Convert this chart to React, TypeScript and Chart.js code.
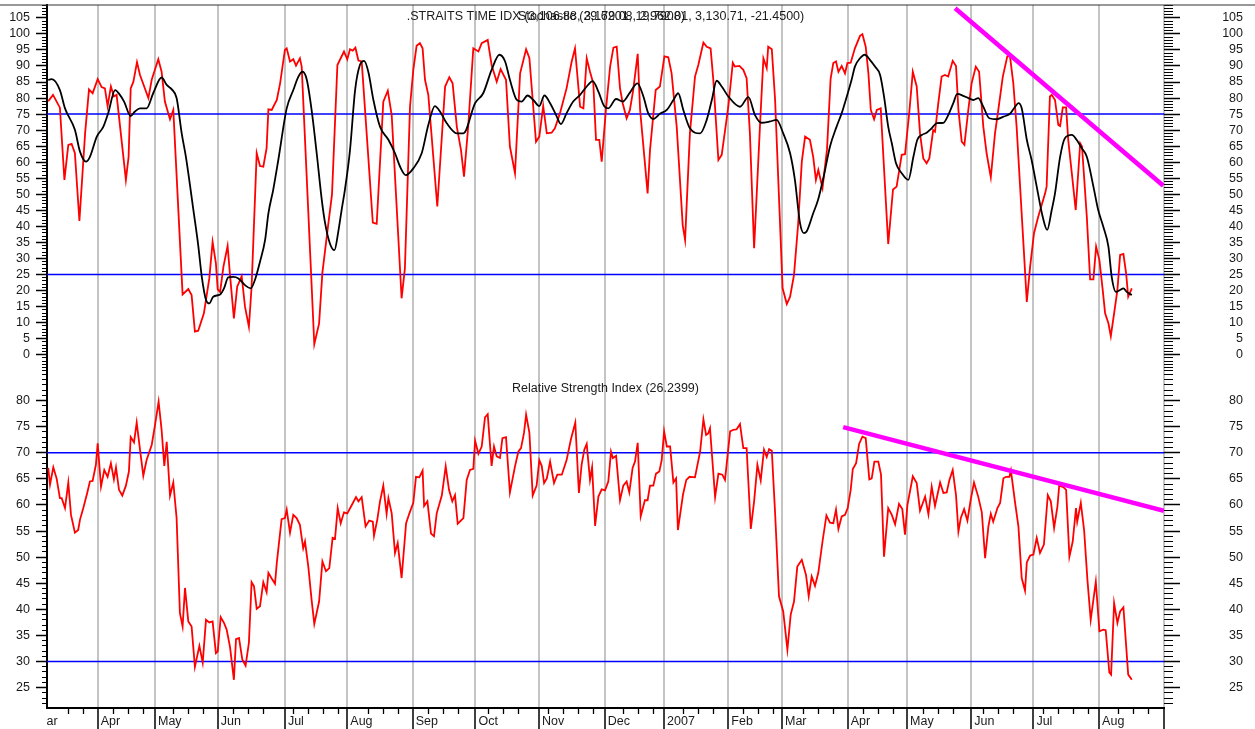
import React, { useEffect, useRef } from 'react';
import { Chart, registerables } from 'chart.js';

Chart.register(...registerables);

const FONT = '"Liberation Sans", Arial, Helvetica, sans-serif';
const TEXT_COLOR = '#1a1a1a';

// x axis: trading-day index
const X_MIN = 0;
const X_MAX = 372.33;

const monthDays = [16.9, 36, 56.9, 79.3, 100.1, 121.9, 142.8, 164, 185.9, 205.7, 227.1, 245, 266.9, 286.7, 308.1, 328.8, 350.7, 372.33];
const monthLabels = ['Apr', 'May', 'Jun', 'Jul', 'Aug', 'Sep', 'Oct', 'Nov', 'Dec', '2007', 'Feb', 'Mar', 'Apr', 'May', 'Jun', 'Jul', 'Aug', ''];
const leadMonthDay = -4.6;
const leadMonthLabel = 'Mar';

const stochTicks = [0, 5, 10, 15, 20, 25, 30, 35, 40, 45, 50, 55, 60, 65, 70, 75, 80, 85, 90, 95, 100, 105];
const rsiTicks = [25, 30, 35, 40, 45, 50, 55, 60, 65, 70, 75, 80];

// Stochastic %K (red)
const kDays = [0.4, 2, 4.3, 5.8, 7.1, 8.2, 9.3, 10.8, 12.7, 14, 15.2, 16.9, 18.2, 19.3, 20.2, 21.3, 22.3, 23.2, 26.3, 27.2, 27.9, 28.8, 30, 31, 33.8, 34.9, 37.1, 38.2, 39.3, 41, 42.1, 45.2, 47.1, 48.2, 49.3, 50.4, 52.3, 54.1, 55.2, 56.3, 56.9, 57.7, 58.8, 60.2, 61, 62.3, 63.4, 64.9, 66, 67.3, 68.2, 69.9, 71, 72.1, 73.2, 73.8, 74.9, 76.6, 77.7, 79.3, 79.9, 81, 82.1, 83, 84.3, 84.9, 89.1, 90.7, 91.8, 93.8, 95, 96.8, 97.9, 99, 100.1, 101, 101.9, 102.8, 103.8, 104.9, 108.6, 109.9, 112.1, 113.6, 114.9, 118.2, 119.3, 121, 122.1, 123.2, 124.3, 125.2, 126, 127.1, 130.1, 132.7, 134.1, 135.2, 136.6, 138, 139, 140.4, 142.1, 143.8, 144.9, 146.9, 148.2, 149.9, 151.2, 153, 154.3, 156, 157.7, 159.7, 160.8, 161.9, 163, 164.1, 165.4, 166.6, 168.2, 169.3, 171, 173.2, 174.9, 176, 177.7, 178.8, 179.9, 181, 182.1, 183, 184.1, 184.9, 186.3, 187.7, 188.8, 189.9, 191, 191.9, 193.2, 194.3, 195.4, 196.9, 197.7, 199.3, 200.2, 201, 202.1, 202.9, 204.3, 205.8, 207.1, 208.2, 209.9, 211.9, 212.7, 214.3, 216, 217.1, 218.8, 219.9, 221.2, 222.1, 223.8, 224.9, 227.1, 228.6, 229.3, 230.8, 232.1, 233.2, 234.3, 235.7, 237.7, 238.8, 239.9, 240.4, 241.6, 242.7, 245.2, 246.6, 247.7, 249, 250.4, 251.6, 252.7, 254.3, 255.4, 256.3, 257.1, 258.5, 260, 261.2, 262.1, 263, 263.8, 264.9, 266, 266.8, 267.9, 269.3, 271, 271.8, 272.9, 273.8, 274.6, 275.7, 276.6, 277.9, 280.4, 282, 283.2, 284.9, 286, 287.4, 288.6, 289.9, 291, 292.1, 293.2, 294.1, 295.4, 296, 297.1, 298.2, 299.3, 300.4, 301.9, 303, 303.8, 304.9, 305.8, 307.1, 308.2, 309.6, 310.7, 312.1, 313.2, 314.6, 316, 317.1, 318.6, 320.1, 321, 322.1, 323.2, 325.4, 326.6, 327.7, 329, 330.4, 332.7, 333.2, 334.3, 334.9, 336, 337.1, 337.7, 338.6, 339.7, 340.4, 341.6, 342.9, 344.4, 345, 346.6, 347.7, 348.8, 349.7, 350.8, 351.9, 352.7, 353.8, 354.6, 355.7, 356.8, 357.7, 358.8, 359.7, 360.4, 361.6];
const kVals = [79, 81, 77, 54.5, 65.4, 65.7, 62.8, 41.7, 69, 82.7, 81.5, 85.9, 83.4, 83, 77.5, 83.6, 80.5, 81, 54.5, 61.7, 83, 85.1, 91.2, 87.2, 80, 85.7, 92.1, 88.2, 78.9, 73.4, 76.3, 18.8, 20.5, 18.6, 7.2, 7.5, 12.9, 23.8, 35.2, 28.5, 20.4, 19.6, 27.4, 33.9, 24.9, 11.3, 21.2, 24.5, 15, 8.7, 21.2, 62.8, 58.8, 58.6, 64.4, 76.5, 76.3, 79.4, 84.6, 95, 95.5, 91.4, 92.1, 90.1, 92.4, 89.8, 3.3, 9.8, 25.6, 41, 50, 90.3, 92.4, 94.5, 92.1, 95.2, 94.8, 95.7, 91.7, 91.4, 41.2, 40.8, 78.9, 82.3, 74.7, 17.6, 26.9, 77.3, 88.8, 96.3, 97.1, 95.5, 85.7, 81, 46.2, 83.6, 86.5, 84.6, 71.1, 63.8, 55.5, 71.1, 95.5, 94.5, 97.1, 98.1, 90.3, 85.1, 89, 85.7, 64.9, 56.6, 87.7, 95.2, 92.4, 79.4, 66.4, 68, 77.5, 69, 69.2, 70.6, 75.3, 83.1, 91.4, 95.5, 77.3, 76.8, 92.4, 88.2, 84.6, 67, 67, 60.2, 76.3, 89.8, 95.7, 96, 83.1, 78.4, 73.7, 76.3, 82.5, 93.8, 76.3, 59.7, 50.3, 63.8, 74.7, 82.5, 83.6, 93, 92.7, 87.7, 71.1, 40.4, 35.8, 69, 86.7, 90.3, 97.3, 96, 95.5, 85.7, 60.7, 62.3, 77.3, 91, 89.8, 90, 88.8, 86.2, 69, 33.2, 72.2, 92.4, 89.3, 96, 95.2, 79.4, 20.7, 15.8, 18.1, 24.9, 41, 60.2, 68, 67, 61.7, 54.5, 57.6, 52, 64, 86, 90.9, 91.4, 88.2, 90, 87.7, 90.9, 91, 95.5, 99.4, 99.9, 96, 87.7, 76.3, 73.4, 76.3, 76.8, 34.5, 51.5, 52.4, 62.3, 62.5, 75.3, 88.2, 83.6, 69, 61.2, 59.7, 61.2, 70, 69.5, 78.4, 86.7, 87.2, 86.7, 91.6, 90, 76.3, 66.4, 65.4, 76.3, 84.6, 89.8, 88.2, 71.1, 62.8, 55.3, 69, 76.3, 86.7, 93, 93, 84.6, 71.1, 35.8, 16.5, 27.4, 37.9, 43, 50.3, 52.4, 80.5, 81, 79.4, 71.6, 71.3, 77.1, 77.1, 67, 56.6, 45.1, 65.9, 64.9, 43, 23.5, 23.5, 33.7, 29.5, 20.2, 12.9, 9.8, 5.8, 12.9, 20.2, 31.1, 31.4, 25.4, 18.1, 20.7];

// Stochastic %D (black)
const dDays = [0.4, 1.6, 4.3, 6, 9.3, 11, 13, 14.3, 16.6, 18.8, 20.4, 22.7, 24.3, 25.7, 27.9, 29.3, 31, 33.2, 35.4, 38.2, 39.9, 41.6, 43.2, 44.9, 46.3, 48.8, 50.4, 51.6, 53, 54.1, 55.4, 57.7, 59, 60.4, 62.1, 63.8, 66, 67.9, 69.3, 71, 72.7, 73.8, 75.4, 77.1, 79.9, 82.1, 83.8, 85.2, 86.6, 88.2, 89.9, 91.6, 92.7, 94.3, 95.8, 97.1, 98.2, 99.3, 101, 102.7, 104.3, 105.7, 107.1, 108.8, 111, 113.8, 116, 117.7, 119.6, 122.1, 124.9, 127.1, 129.3, 131, 133.2, 136.6, 138.8, 142.7, 145.4, 148.2, 150.8, 152.7, 154.3, 156.6, 158.2, 160.2, 162.1, 164.1, 165.8, 167.7, 169.7, 171.3, 173.2, 175.4, 177.7, 179.9, 181.9, 183.8, 185.7, 187.1, 189.7, 191.9, 194.3, 196.8, 198.8, 200.4, 202.1, 204.3, 206.6, 208.8, 210.4, 212.1, 214.3, 217.7, 219.9, 221.6, 223.2, 224.9, 227.1, 231, 233.8, 236, 238.2, 241, 243.2, 245.4, 247.7, 249.3, 251, 252.3, 253.2, 255.4, 257, 259, 261, 263.2, 264.9, 266.6, 268.2, 269.3, 271, 272.6, 274.3, 276, 277.7, 279, 280.4, 281.6, 283, 284.9, 287.1, 288.8, 290.1, 291.6, 293.2, 294.9, 296.6, 298.8, 300.4, 302.1, 303.4, 305.4, 307.1, 308.8, 310.4, 312.1, 314.1, 316.6, 318.8, 321, 322.7, 323.8, 324.9, 326.6, 328.2, 329.9, 331.9, 333.4, 334.9, 336, 337.7, 339.3, 341.6, 343.2, 344.9, 346.6, 348.8, 350.4, 352.1, 353.8, 354.9, 356.3, 357.7, 358.8, 359.9, 361.6];
const dVals = [85.7, 85.9, 82.5, 76.8, 70.1, 63.3, 60.2, 61.7, 68, 71.1, 75.3, 82.5, 81, 78.9, 74.4, 75.8, 76.8, 76.8, 81.5, 86.4, 84.1, 82.7, 80, 69, 61.7, 45.1, 34.2, 24.3, 17.1, 16, 18.1, 18.8, 20.7, 24.1, 24.3, 23.8, 21.7, 20.7, 23.3, 29, 35.8, 44.1, 51.4, 60.7, 76.8, 82.5, 86.7, 88.2, 85.7, 76.3, 62.8, 48.2, 41, 34.7, 32.6, 38.4, 45.1, 51.4, 63.8, 82.5, 90.3, 91.6, 88.2, 79.4, 71.1, 67, 62.8, 58.6, 56, 58.1, 62.8, 71.6, 77.5, 75.8, 72.2, 69, 69, 78.4, 81.5, 88.8, 93.5, 91.4, 85.7, 79.4, 78.9, 80.8, 79.4, 77.5, 80.8, 78.4, 74.7, 71.9, 75.3, 78.9, 81, 83.6, 85.3, 82, 77.5, 76.8, 79.7, 78.9, 81.7, 84.6, 80.5, 75.3, 73.5, 75.1, 76.3, 79.4, 81.5, 76.3, 70.6, 69, 73.2, 79.4, 85.4, 83.6, 80.5, 77.3, 80.3, 74.7, 72.3, 72.7, 73.2, 69, 62.8, 54.5, 41, 37.9, 38.4, 44.1, 48.2, 56, 64.9, 71.1, 75.3, 80.5, 85.7, 89.8, 92.4, 93.5, 91.9, 89.8, 87.2, 80.5, 71.1, 65.9, 59.7, 56.6, 54.5, 61.7, 67, 68.5, 69.2, 70.6, 72.2, 72.3, 74.7, 78.4, 81.3, 80.7, 80, 79.4, 80, 77.3, 73.7, 73.4, 74.2, 75.1, 77.3, 78.4, 76.8, 67, 60.7, 52.4, 43, 38.9, 45.1, 50.3, 61.7, 67.5, 68.5, 67, 64.4, 61.7, 52.4, 45.1, 39.9, 33.7, 24.3, 19.6, 20.2, 20.7, 19.6, 18.6];

// Relative Strength Index (red)
const rsiDays = [0.4, 1, 2.1, 3.2, 4.3, 4.9, 6, 7.1, 8, 9.3, 10.4, 11, 12.1, 13.4, 14.3, 15.2, 16.3, 16.9, 18, 19.1, 20.2, 21.3, 22.3, 23, 24, 25.1, 26.3, 27.3, 27.9, 29, 29.9, 31, 32.1, 33.2, 34.9, 36, 37.2, 38.2, 39.1, 39.9, 41, 42.1, 43.2, 44.3, 45.2, 46, 47.1, 48.2, 49.3, 50.8, 51.9, 53, 54.1, 55.2, 56.3, 56.9, 57.9, 59, 59.9, 61, 62.3, 63, 64, 65.1, 66.2, 67.3, 68.2, 69, 69.9, 71, 72.1, 73.2, 73.8, 74.9, 76, 76.6, 78.2, 79.3, 79.9, 81, 82.1, 83.2, 84.3, 85.4, 86, 87.1, 88.2, 89.1, 90.7, 91.8, 93, 94.1, 95.2, 96, 96.9, 97.9, 99, 100.1, 101.6, 103, 103.8, 104.9, 106.2, 107.4, 108.6, 109, 110.1, 111, 112.1, 113.2, 113.8, 114.9, 116, 116.9, 118.2, 119.7, 120.8, 122.1, 123, 124.1, 125.2, 125.7, 126.8, 128, 129, 129.9, 131.6, 132.9, 134, 135.1, 136, 136.9, 138.8, 139.9, 141, 142.1, 142.7, 143.8, 144.9, 146, 146.9, 148.2, 149, 149.9, 151, 151.8, 153, 154.3, 156, 157.1, 158, 159, 159.7, 160.8, 161.9, 163.2, 164.1, 164.9, 165.7, 166.6, 167.7, 169, 170.1, 171.6, 173.2, 174.6, 176.1, 177.3, 178.2, 179.1, 179.9, 181, 181.7, 182.7, 183.8, 184.9, 186, 187.1, 188, 188.6, 189.7, 191, 192.1, 193.2, 194.1, 195.2, 196, 196.9, 197.9, 199.3, 200.2, 201, 202.1, 203, 204.1, 204.9, 205.7, 206.6, 207.7, 208.8, 209.7, 210.3, 212, 213.1, 214.2, 216, 217.7, 218.8, 219.7, 220.4, 221, 221.6, 222.7, 223.8, 225.1, 226, 227.7, 228.8, 229.9, 231, 232.1, 233.2, 234.6, 235.7, 236.8, 237.9, 239, 239.9, 240.7, 241.6, 242.7, 244, 245.4, 246.8, 247.9, 249, 250.1, 251.6, 253, 253.9, 254.9, 256, 257.1, 258.5, 259.8, 261, 262.1, 263, 263.8, 264.9, 266, 266.9, 267.9, 268.6, 269.7, 270.7, 271.8, 272.9, 274.1, 274.9, 275.8, 277.1, 278, 279, 280.4, 281.6, 282.7, 284, 285.1, 286, 286.8, 288.6, 289.9, 291, 292.7, 293.8, 294.9, 296, 297.7, 298.8, 299.9, 300.8, 301.9, 303, 303.8, 304.6, 305.7, 306.8, 307.9, 309, 310.4, 311.6, 312.7, 313.8, 314.6, 315.4, 316.8, 317.7, 318.8, 319.7, 320.8, 321.3, 322.7, 323.8, 324.9, 326, 326.6, 327.7, 328.8, 329.9, 331, 332.3, 333.6, 334.6, 335.7, 336.8, 337.4, 338.8, 339.7, 340.8, 341.9, 343, 343.4, 344.6, 345.7, 346.8, 347.9, 349.6, 350.8, 352.1, 352.9, 354.1, 354.7, 355.7, 356.8, 357.7, 358.8, 360.4, 361.6];
const rsiVals = [67.1, 63.9, 67.2, 65.1, 61.3, 61.3, 59.4, 64.3, 58.1, 54.7, 55.2, 57.2, 59.4, 62.3, 64.5, 64.6, 67.7, 71.8, 63.5, 66.7, 65.4, 68, 64.9, 67.2, 62.9, 61.8, 63.7, 66.4, 73, 72, 75.8, 70.6, 65.6, 68.6, 71.5, 75.3, 79.8, 74.4, 67.5, 72.1, 61.8, 64.3, 57.5, 39.3, 36.7, 44.1, 37.7, 36.7, 29, 33, 29.8, 38, 37.5, 37.7, 31.6, 31.9, 38.5, 37.4, 36.1, 32.8, 26.5, 34.3, 34.5, 30.4, 29.2, 33.6, 45.2, 44.4, 40.1, 40.6, 45.2, 43.3, 47, 45.9, 44.9, 48.9, 57.3, 57.5, 59.1, 54.7, 58.1, 57.5, 56.2, 51.7, 53, 48.2, 41.8, 37.2, 41.5, 49.2, 47.3, 47.9, 53.7, 53.5, 59.4, 56.5, 58.6, 58.4, 60, 61.5, 60.7, 61.5, 55.9, 57, 56.8, 54.1, 57.2, 60.7, 63.7, 58.3, 61.3, 58.4, 50.8, 52.7, 46, 56.5, 58.4, 60.4, 65.4, 65.3, 66.6, 59.8, 60.7, 54.5, 54, 58.4, 61.8, 67.4, 62.9, 60.7, 61.9, 56.4, 57.5, 64.8, 66.7, 66.9, 72.3, 69.8, 71.2, 76.8, 77.4, 67.5, 71.2, 69.3, 69, 72.8, 73, 62.4, 67.4, 70.2, 70.9, 73.8, 77.3, 73.8, 61.8, 63.7, 68.6, 67.5, 64.2, 65.1, 68.3, 64.2, 65.8, 65.8, 68.6, 72.5, 75.8, 62.3, 67.7, 70.6, 71.7, 64.8, 67.2, 56, 61.6, 63, 62.8, 64.5, 70.2, 69, 69.4, 60.9, 63.7, 64.5, 62.4, 67.1, 68.3, 71.9, 57.8, 60.9, 60.9, 63.7, 63.7, 66, 66.4, 68.6, 74.1, 71.2, 71.2, 64.3, 65.1, 55.2, 62, 64.8, 65.4, 65.3, 70.2, 76.4, 73.4, 73.7, 74.7, 70, 61.5, 66, 65.8, 64.8, 74.1, 74.4, 74.5, 75.5, 70.9, 70.9, 55.4, 60.7, 67.7, 64.7, 70.6, 69.2, 70.7, 70.4, 58.4, 42.5, 39.6, 32.3, 39, 41.5, 48.2, 49.5, 46.6, 42.5, 46.3, 44.5, 47, 53, 58, 56.6, 56.5, 59.1, 55.4, 57.8, 58.1, 59.4, 62.9, 66.9, 68, 71.7, 73.1, 72.8, 64.9, 65.1, 68.3, 68.3, 65.8, 50.1, 59.4, 58.1, 56.3, 60.2, 59.2, 54.3, 60, 65.5, 64.2, 58.9, 61.6, 58.2, 63.5, 59.8, 64.3, 62.3, 62.4, 64.8, 66.7, 61.9, 54.9, 57.5, 59.2, 57, 61, 64.3, 61.6, 58.6, 49.8, 55.9, 58.3, 56.8, 59.4, 60.4, 65.1, 65.4, 65.4, 66.6, 60.4, 55.9, 46, 43.6, 49, 50.3, 50.5, 53.7, 50.8, 52.4, 61.9, 60.7, 55.6, 59.7, 63.7, 63.4, 62.9, 50.1, 53, 59.4, 56.8, 60.4, 55.2, 45.7, 38, 45.3, 35.8, 36.1, 36, 27.9, 27.5, 41.2, 37.4, 39.6, 40.4, 27.5, 26.5];

const stochBands = [75, 25];
const rsiBands = [70, 30];
const stochTrendDays = [302.7, 372.1];
const stochTrendVals = [108, 52.7];
const rsiTrendDays = [265.4, 372.3];
const rsiTrendVals = [74.9, 58.9];

const stochTitle = '.STRAITS TIME IDX (3,106.88, 3,179.08, 2,962.01, 3,130.71, -21.4500)';
const stochLabel = 'Stochastic (29.6201, 19.7908)';
const rsiLabel = 'Relative Strength Index (26.2399)';

const pts = (xs: number[], ys: number[]) => xs.map((x, i) => ({ x, y: ys[i] }));
const range = (a: number, b: number, step: number) => {
  const out: number[] = [];
  for (let v = a; v <= b + 1e-9; v += step) out.push(Math.round(v * 100) / 100);
  return out;
};
const weekDays = range(7, 370, 5).filter((d) => monthDays.every((m) => Math.abs(m - d) > 2.5));

function zeroPad(s: any) {
  s.paddingTop = 0;
  s.paddingBottom = 0;
  s.paddingLeft = 0;
  s.paddingRight = 0;
}
const setTicks = (vals: number[]) => (s: any) => {
  s.ticks = vals.map((v) => ({ value: v }));
};

function yScales(min: number, max: number, majors: number[]) {
  const minors = range(Math.ceil(min), Math.floor(max), 1);
  const font = { family: FONT, size: 12.5 };
  return {
    yL: {
      type: 'linear', position: 'left', min, max, weight: 0,
      afterBuildTicks: setTicks(minors),
      afterFit: (s: any) => { s.width = 0; zeroPad(s); },
      ticks: { display: false },
      grid: { drawOnChartArea: false, drawTicks: true, tickLength: 5, tickColor: '#000', tickWidth: 1 },
      border: { display: false },
    },
    yLM: {
      type: 'linear', position: 'left', min, max, weight: 1,
      afterBuildTicks: setTicks(majors),
      afterFit: (s: any) => { s.width = 47; zeroPad(s); },
      ticks: { display: true, autoSkip: false, padding: 6, color: TEXT_COLOR, font, callback: (v: any) => String(v) },
      grid: { drawOnChartArea: false, drawTicks: true, tickLength: 11, tickColor: '#000', tickWidth: 1.5 },
      border: { display: true, color: '#000', width: 2 },
    },
    yR: {
      type: 'linear', position: 'right', min, max, weight: 0,
      afterBuildTicks: setTicks(minors),
      afterFit: (s: any) => { s.width = 0; zeroPad(s); },
      ticks: { display: false },
      grid: { drawOnChartArea: false, drawTicks: true, tickLength: 9, tickColor: '#000', tickWidth: 1 },
      border: { display: false },
    },
    yRM: {
      type: 'linear', position: 'right', min, max, weight: 1,
      afterBuildTicks: setTicks(majors),
      afterFit: (s: any) => { s.width = 79; zeroPad(s); },
      ticks: { display: true, autoSkip: false, crossAlign: 'far', padding: 0, color: TEXT_COLOR, font, callback: (v: any) => String(v) },
      grid: { drawOnChartArea: false, drawTicks: true, tickLength: 16, tickColor: '#000', tickWidth: 1.5 },
      border: { display: false },
    },
  };
}

const lineDs = (data: any[], color: string, width: number, extra: any = {}) => ({
  data, borderColor: color, backgroundColor: color, borderWidth: width,
  pointRadius: 0, tension: 0, fill: false, xAxisID: 'x', yAxisID: 'yL', ...extra,
});

const baseOptions = (padTop: number) => ({
  responsive: false,
  animation: false as const,
  events: [] as any[],
  layout: { padding: { top: padTop, right: 12, left: 0, bottom: 0 } },
  plugins: { legend: { display: false }, tooltip: { enabled: false }, title: { display: false } },
});

const topDecor = {
  id: 'topDecor',
  afterDraw(chart: any) {
    const { ctx, chartArea: ca, width } = chart;
    ctx.save();
    ctx.strokeStyle = '#333';
    ctx.lineWidth = 1.2;
    ctx.beginPath();
    ctx.moveTo(0, ca.top);
    ctx.lineTo(width, ca.top);
    ctx.stroke();
    ctx.fillStyle = TEXT_COLOR;
    ctx.font = `12.5px ${FONT}`;
    ctx.textAlign = 'center';
    ctx.textBaseline = 'middle';
    const cx = (ca.left + ca.right) / 2;
    ctx.fillText(stochTitle, cx, ca.top + 12);
    ctx.fillText(stochLabel, cx - 4, ca.top + 12);
    ctx.restore();
  },
};

const bottomDecor = {
  id: 'bottomDecor',
  afterDraw(chart: any) {
    const { ctx, chartArea: ca } = chart;
    ctx.save();
    ctx.fillStyle = TEXT_COLOR;
    ctx.font = `12.5px ${FONT}`;
    ctx.textAlign = 'center';
    ctx.textBaseline = 'middle';
    ctx.fillText(rsiLabel, (ca.left + ca.right) / 2, ca.top + 14);
    const xs = chart.scales.x;
    ctx.beginPath();
    ctx.rect(ca.left - 1, ca.bottom + 2, ca.right - ca.left, chart.height - ca.bottom);
    ctx.clip();
    ctx.textAlign = 'left';
    ctx.fillText(leadMonthLabel, xs.getPixelForValue(leadMonthDay) + 3, ca.bottom + 13.5);
    ctx.restore();
  },
};

function makeTop(canvas: HTMLCanvasElement) {
  return new Chart(canvas, {
    type: 'line',
    data: {
      datasets: [
        lineDs(pts(stochTrendDays, stochTrendVals), '#ff00ff', 4.5),
        lineDs(pts(dDays, dVals), '#000000', 1.8, { cubicInterpolationMode: 'monotone' }),
        lineDs(pts(kDays, kVals), '#ff0000', 1.8),
        ...stochBands.map((b) => lineDs([{ x: X_MIN, y: b }, { x: X_MAX, y: b }], '#0000ff', 1.5)),
      ],
    },
    options: {
      ...baseOptions(5),
      scales: {
        x: {
          type: 'linear', position: 'bottom', min: X_MIN, max: X_MAX,
          afterBuildTicks: setTicks(monthDays),
          afterFit: (s: any) => { s.height = 0; zeroPad(s); },
          ticks: { display: false },
          grid: { color: '#c4c4c4', lineWidth: 2, drawTicks: false },
          border: { display: false },
        },
        ...yScales(-6.3, 109, stochTicks),
      },
    } as any,
    plugins: [topDecor],
  });
}

function makeBottom(canvas: HTMLCanvasElement) {
  return new Chart(canvas, {
    type: 'line',
    data: {
      datasets: [
        lineDs(pts(rsiTrendDays, rsiTrendVals), '#ff00ff', 4.5),
        lineDs(pts(rsiDays, rsiVals), '#ff0000', 1.8),
        ...rsiBands.map((b) => lineDs([{ x: X_MIN, y: b }, { x: X_MAX, y: b }], '#0000ff', 1.5)),
      ],
    },
    options: {
      ...baseOptions(0),
      scales: {
        xm: {
          type: 'linear', position: 'bottom', min: X_MIN, max: X_MAX, weight: 0,
          afterBuildTicks: setTicks(weekDays),
          afterFit: (s: any) => { s.height = 0; zeroPad(s); },
          ticks: { display: false },
          grid: { drawOnChartArea: false, drawTicks: true, tickLength: 6, tickColor: '#000', tickWidth: 1.3 },
          border: { display: false },
        },
        x: {
          type: 'linear', position: 'bottom', min: X_MIN, max: X_MAX, weight: 1,
          afterBuildTicks: setTicks(monthDays),
          afterFit: (s: any) => { s.height = 21; zeroPad(s); },
          ticks: {
            display: true, autoSkip: false, maxRotation: 0, minRotation: 0, align: 'start',
            labelOffset: 3, padding: -15, color: TEXT_COLOR, font: { family: FONT, size: 12.5 },
            callback: (_v: any, i: number) => monthLabels[i] ?? '',
          },
          grid: { color: '#c4c4c4', lineWidth: 2, drawTicks: true, tickLength: 21, tickColor: '#000', tickWidth: 1.5 },
          border: { display: true, color: '#000', width: 2 },
        },
        ...yScales(21.1, 84.9, rsiTicks),
      },
    } as any,
    plugins: [bottomDecor],
  });
}

export default function App() {
  const topRef = useRef<HTMLCanvasElement>(null);
  const botRef = useRef<HTMLCanvasElement>(null);
  useEffect(() => {
    const a = makeTop(topRef.current as HTMLCanvasElement);
    const b = makeBottom(botRef.current as HTMLCanvasElement);
    return () => {
      a.destroy();
      b.destroy();
    };
  }, []);
  return (
    <div style={{ position: 'absolute', left: 0, top: 0, width: 1255, height: 729, background: '#ffffff', overflow: 'hidden' }}>
      <canvas ref={topRef} width={1255} height={375} style={{ position: 'absolute', left: 0, top: 0 }} />
      <canvas ref={botRef} width={1255} height={354} style={{ position: 'absolute', left: 0, top: 375 }} />
    </div>
  );
}
